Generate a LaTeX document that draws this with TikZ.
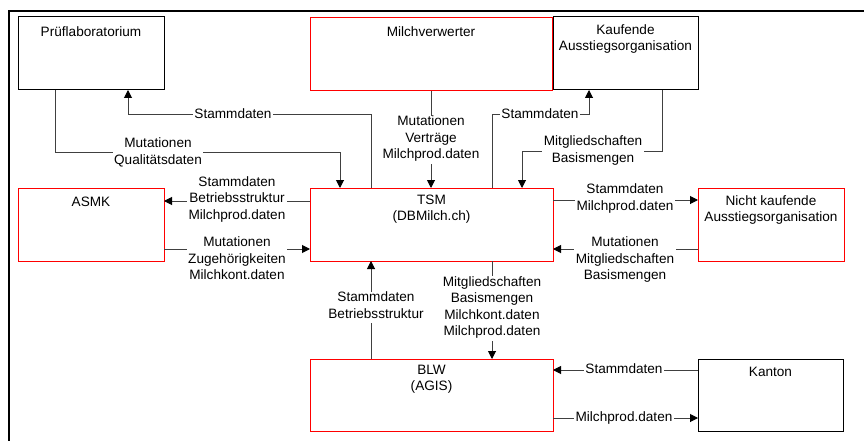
\documentclass[tikz,border=0pt]{standalone}
\usepackage{fontspec}
\setmainfont{Liberation Sans}
\usetikzlibrary{arrows.meta}
\definecolor{boxred}{RGB}{255,0,0}
\definecolor{conncol}{RGB}{64,64,64}
\begin{document}
\begin{tikzpicture}[x=1pt,y=-1pt,
  box/.style={draw, line width=1pt, anchor=north west, inner sep=0pt, outer sep=0pt},
  redbox/.style={box, draw=boxred},
  blackbox/.style={box, draw=black},
  boxtext/.style={anchor=north, inner sep=0pt, align=center, font=\fontsize{13.6}{16.5}\selectfont, execute at begin node=\strut},
  conn/.style={draw=conncol, line width=1pt, -{Triangle[length=8pt,width=8pt,color=black]}},
  lbl/.style={fill=white, inner xsep=1.5pt, inner ysep=0pt, align=center, font=\fontsize{13.6}{16.5}\selectfont, execute at begin node=\strut, execute at end node=\strut}
]
\useasboundingbox (0,0) rectangle (864,441);
\fill[white] (0,0) rectangle (864,441);
% outer frame
\draw[line width=1.6pt] (9,441) -- (9,11) -- (864,11);

% boxes
\node[blackbox, minimum width=146pt, minimum height=73pt] (pruef) at (18,17) {};
\node[redbox, minimum width=242pt, minimum height=73pt] (milch) at (310,18) {};
\node[blackbox, minimum width=145pt, minimum height=73pt] (kauf) at (553,17) {};
\node[redbox, minimum width=146pt, minimum height=73pt] (asmk) at (18,188) {};
\node[redbox, minimum width=243pt, minimum height=73pt] (tsm) at (310,188) {};
\node[redbox, minimum width=146pt, minimum height=73pt] (nicht) at (698,188) {};
\node[redbox, minimum width=243pt, minimum height=72pt] (blw) at (310,359) {};
\node[blackbox, minimum width=145pt, minimum height=72pt] (kanton) at (698,359) {};

% connectors
\draw[conn] ([xshift=61pt]tsm.north west) -- ++(0,-73) -| ([xshift=110pt]pruef.south west);
\draw[conn] ([xshift=37pt]pruef.south west) -- ++(0,62) -| ([xshift=30pt]tsm.north west);
\draw[conn] (milch.south) -- (milch.south |- tsm.north);
\draw[conn] ([xshift=182pt]tsm.north west) -- ++(0,-73) -| ([xshift=36pt]kauf.south west);
\draw[conn] ([xshift=109pt]kauf.south west) -- ++(0,61) -| ([xshift=212pt]tsm.north west);
\draw[conn] ([yshift=-13pt]tsm.north west) -- ([yshift=-13pt]asmk.north east);
\draw[conn] ([yshift=-61pt]asmk.north east) -- ([yshift=-61pt]tsm.north west);
\draw[conn] ([yshift=-12pt]tsm.north east) -- ([yshift=-12pt]nicht.north west);
\draw[conn] ([yshift=-61pt]nicht.north west) -- ([yshift=-61pt]tsm.north east);
\draw[conn] ([xshift=61pt]blw.north west) -- ([xshift=61pt]tsm.south west);
\draw[conn] ([xshift=182pt]tsm.south west) -- ([xshift=182pt]blw.north west);
\draw[conn] ([yshift=-11pt]kanton.north west) -- ([yshift=-11pt]blw.north east);
\draw[conn] ([yshift=-59pt]blw.north east) -- ([yshift=-59pt]kanton.north west);

% connector labels
\node[lbl] (l1) at (233,115) {Stammdaten};
\node[lbl] (l2) at (158,153.5) {Mutationen\\Qualitätsdaten};
\node[lbl] (l3) at (431,140) {Mutationen\\Verträge\\Milchprod.daten};
\node[lbl] (l4) at (540,115) {Stammdaten};
\node[lbl] (l5) at (593,151.5) {Mitgliedschaften\\Basismengen};
\node[lbl] (l6) at (237,200.5) {Stammdaten\\Betriebsstruktur\\Milchprod.daten};
\node[lbl] (l7) at (237,261) {Mutationen\\Zugehörigkeiten\\Milchkont.daten};
\node[lbl] (l8) at (625,199.5) {Stammdaten\\Milchprod.daten};
\node[lbl] (l9) at (625,261) {Mutationen\\Mitgliedschaften\\Basismengen};
\node[lbl] (l10) at (376,307.5) {Stammdaten\\Betriebsstruktur};
\node[lbl] (l11) at (492,308.5) {Mitgliedschaften\\Basismengen\\Milchkont.daten\\Milchprod.daten};
\node[lbl] (l12) at (624,370) {Stammdaten};
\node[lbl] (l13) at (624,418) {Milchprod.daten};

% box texts
\node[boxtext] (pruefT) at ([yshift=-7.5pt]pruef.north) {Prüflaboratorium};
\node[boxtext] (milchT) at ([yshift=-6.5pt]milch.north) {Milchverwerter};
\node[boxtext] (kaufT) at ([yshift=-7pt]kauf.north) {Kaufende\\Ausstiegsorganisation};
\node[boxtext] (asmkT) at ([yshift=-7pt]asmk.north) {ASMK};
\node[boxtext] (tsmT) at ([yshift=-6.5pt]tsm.north) {TSM\\(DBMilch.ch)};
\node[boxtext] (nichtT) at ([yshift=-7pt]nicht.north) {Nicht kaufende\\Ausstiegsorganisation};
\node[boxtext] (blwT) at ([yshift=-5.5pt]blw.north) {BLW\\(AGIS)};
\node[boxtext] (kantonT) at ([yshift=-5.5pt]kanton.north) {Kanton};
\end{tikzpicture}
\end{document}
